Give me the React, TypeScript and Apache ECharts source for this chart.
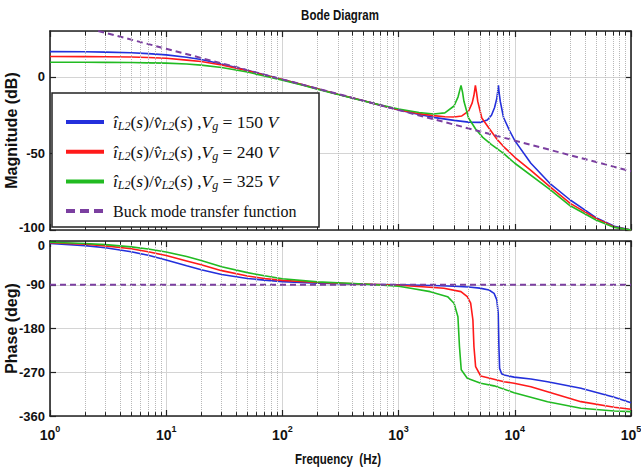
import React, { useEffect, useRef } from "react";
import * as echarts from "echarts";

// ---------- data ----------
const xTickExponents = [0, 1, 2, 3, 4, 5];

const seriesNames = ["vg150", "vg240", "vg325", "buck"];
const seriesColors = ["#2430dc", "#ff1a1a", "#22bb22", "#7b3fa0"];
const vgValues = ["150", "240", "325"];

// Vg = 150 V (blue)
const blueMagF = [1, 2, 3, 5, 7, 10, 15, 20, 30, 50, 70, 100, 150, 200, 300, 500, 700, 1000, 1500, 2000, 3000, 4000, 5000, 5800, 6300, 6700, 7000, 7150, 7230, 7320, 7500, 8000, 9000, 10000, 13750, 20000, 30000, 40000, 50000, 72000, 100000];
const blueMagDb = [16.5, 16.4, 16.2, 15.8, 15.2, 14.4, 12.8, 11.4, 8.5, 4.4, 1.4, -1.7, -5.1, -7.7, -11.3, -15.6, -18.6, -21.6, -24.6, -26.4, -28.4, -29.5, -29.7, -28.2, -25, -20, -14, -9, -5.5, -10, -16, -26.5, -35, -41.6, -56.4, -69.5, -80.4, -86.9, -92, -97.5, -100];
const bluePhF = [1, 2, 3, 5, 7, 10, 15, 20, 30, 50, 70, 100, 200, 500, 1000, 2000, 3000, 4000, 5000, 6000, 6630, 7000, 7200, 7300, 7400, 7700, 8090, 9860, 13750, 19130, 37060, 71800, 100000];
const bluePhDeg = [-5, -9.5, -14, -22, -29.5, -39, -51, -59, -69, -77, -80.5, -83.5, -87, -89, -90, -91.5, -93, -94.5, -97, -100.8, -107.6, -121, -148.7, -217, -262, -273, -275.6, -280, -284, -289.4, -303, -321.5, -332.6];

// Vg = 240 V (red)
const redMagF = [1, 2, 3, 5, 7, 10, 15, 20, 30, 50, 70, 100, 150, 200, 300, 500, 700, 1000, 1500, 2000, 2500, 3000, 3500, 4000, 4300, 4450, 4580, 4680, 4800, 5200, 6000, 7000, 8000, 10000, 13750, 20000, 30000, 50000, 72000, 100000];
const redMagDb = [13.3, 13.25, 13.2, 13.0, 12.7, 12.2, 11.0, 10.1, 7.8, 4.1, 1.1, -1.7, -5.2, -7.7, -11.3, -15.6, -18.5, -21.4, -24.0, -25.3, -26, -26.2, -25.5, -22.4, -17, -12, -5.5, -10, -16, -26.8, -33.5, -40.5, -45.5, -52.5, -61, -71.7, -82.6, -92.4, -98, -100];
const redPhF = [1, 2, 3, 5, 7, 10, 15, 20, 30, 50, 70, 100, 200, 500, 1000, 1270, 2000, 2450, 3440, 3900, 4170, 4360, 4450, 4600, 5090, 8090, 9860, 13750, 19130, 37060, 71800, 100000];
const redPhDeg = [-3.5, -6.5, -10, -16, -22, -30, -41, -49, -61, -72, -77, -81, -85.5, -88.5, -91, -92.6, -95.5, -97.3, -104.2, -114.5, -128, -162.5, -217, -258.5, -277.7, -289.4, -292.7, -299.7, -310, -330.5, -342, -346];

// Vg = 325 V (green)
const greenMagF = [1, 2, 3, 5, 7, 10, 15, 20, 30, 50, 70, 100, 150, 200, 300, 500, 700, 1000, 1500, 2000, 2500, 3000, 3250, 3445, 3550, 3650, 4000, 4600, 5300, 6300, 8000, 10000, 20000, 30000, 50000, 72000, 100000];
const greenMagDb = [9.6, 9.6, 9.5, 9.4, 9.2, 9.0, 8.4, 7.7, 6.2, 3.2, 0.6, -2.1, -5.5, -8.0, -11.5, -15.7, -18.4, -21.0, -23.2, -24.2, -23.5, -19, -13, -5.5, -10, -15.9, -26.8, -34, -39.5, -44.2, -50, -56.4, -73.4, -84.2, -93.5, -98.3, -100];
const greenPhF = [1, 2, 3, 5, 7, 10, 15, 20, 30, 50, 70, 100, 200, 500, 1000, 1270, 1870, 2640, 3000, 3240, 3340, 3460, 3900, 5090, 6630, 9860, 19130, 37060, 71800, 100000];
const greenPhDeg = [-2.5, -5, -7.5, -12, -16.5, -22.5, -32, -40, -53, -65, -71.5, -77.5, -84, -88.5, -93, -97.3, -104.2, -114.5, -128, -155.7, -217, -265, -282.5, -292.7, -298, -312, -330.5, -344.2, -349.7, -351];

// Buck mode transfer function (dashed)
const buckMagF = [2.6, 10, 100, 1000, 10000, 100000];
const buckMagDb = [30, 18.4, -1.6, -21.6, -41.6, -61.6];
const buckPhF = [1, 100000];
const buckPhDeg = [-90, -90];

// ---------- helpers ----------
const zip = (f: number[], v: number[]) => f.map((x, i) => [x, v[i]]);

const SANS = "'Liberation Sans', Arial, sans-serif";
const SERIF = "'Liberation Serif', 'Times New Roman', serif";

const minorFreqs: number[] = [];
[1, 10, 100, 1000, 10000].forEach((d) => {
  for (let m = 2; m <= 9; m++) minorFreqs.push(m * d);
});

function legendLabel(name: string) {
  const idx = seriesNames.indexOf(name);
  if (idx === 3) return "{plain|Buck mode transfer function}";
  const v = vgValues[idx];
  return (
    "{it|î}{sub|L2}{n|(}{it|s}{n|)/}{it|v̂}{sub|L2}{n|(}{it|s}{n|) ,}{it|V}{sub|g}{n| = " +
    v +
    " }{it|V}"
  );
}

export default function App() {
  const ref = useRef<HTMLDivElement>(null);
  useEffect(() => {
    if (!ref.current) return;
    const chart = echarts.init(ref.current, undefined, { renderer: "svg" });

    const gridL = 50;
    const gridR = 10;
    const axisLine = { show: true, onZero: false, lineStyle: { color: "#222", width: 1.6 } };
    const tickStyle = { color: "#222", width: 1.2 };
    const labelFont = {
      fontFamily: SANS,
      fontWeight: "bold" as const,
      fontSize: 13,
      color: "#111",
    };

    const xBase = (grid: number, pos: "bottom" | "top", labels: boolean) => ({
      type: "log" as const,
      logBase: 10,
      min: 1,
      max: 100000,
      gridIndex: grid,
      position: pos,
      axisLine,
      axisTick: { show: true, inside: true, length: 6, lineStyle: tickStyle },
      splitLine: {
        show: pos === "bottom",
        lineStyle: { color: "#d4d4d4", width: 1 },
      },
      axisLabel: labels
        ? {
            show: true,
            margin: 8,
            formatter: (val: number) => {
              const e = Math.round(Math.log10(val));
              return xTickExponents.includes(e) ? `{b|10}{s|${e}}` : "";
            },
            rich: {
              b: { ...labelFont, fontSize: 14, lineHeight: 18, verticalAlign: "bottom" },
              s: { ...labelFont, fontSize: 9, lineHeight: 18, verticalAlign: "top" },
            },
          }
        : { show: false },
    });

    const yBase = (
      grid: number,
      pos: "left" | "right",
      min: number,
      max: number,
      interval: number,
      name: string,
      formatter?: (v: number) => string,
      rich?: any
    ) => ({
      type: "value" as const,
      gridIndex: grid,
      position: pos,
      min,
      max,
      interval,
      axisLine,
      axisTick: { show: true, inside: true, length: 6, lineStyle: tickStyle },
      splitLine: {
        show: pos === "left",
        lineStyle: { color: "#d4d4d4", width: 1 },
      },
      axisLabel:
        pos === "left"
          ? {
              show: true,
              margin: 5,
              showMaxLabel: grid === 1,
              ...labelFont,
              formatter,
              rich,
            }
          : { show: false },
      name: pos === "left" ? name : "",
      nameLocation: "middle" as const,
      nameGap: 31,
      nameRotate: 90,
      nameMoveOverlap: false,
      nameTextStyle: {
        fontFamily: SANS,
        fontWeight: "bold",
        fontSize: 16,
        color: "#111",
      },
    });

    const minorGridLine = (grid: number) => ({
      type: "line" as const,
      xAxisIndex: grid * 2,
      yAxisIndex: grid * 2,
      data: [],
      z: 1,
      silent: true,
      markLine: {
        silent: true,
        symbol: ["none", "none"],
        label: { show: false },
        animation: false,
        lineStyle: { type: "dotted" as const, color: "#b8b8b8", width: 1 },
        data: minorFreqs.map((f) => ({ xAxis: f })),
      },
    });

    const minorTicks = (grid: number, lo: number, hi: number, len: number) => ({
      type: "line" as const,
      xAxisIndex: grid * 2,
      yAxisIndex: grid * 2,
      data: [],
      z: 5,
      silent: true,
      markLine: {
        silent: true,
        symbol: ["none", "none"],
        label: { show: false },
        animation: false,
        lineStyle: { type: "solid" as const, color: "#222", width: 1 },
        data: minorFreqs.flatMap((f) => [
          [{ coord: [f, lo] }, { coord: [f, lo + len] }],
          [{ coord: [f, hi] }, { coord: [f, hi - len] }],
        ]),
      },
    });

    const curve = (
      idx: number,
      grid: number,
      data: number[][],
      dashed = false
    ) => ({
      type: "line" as const,
      name: seriesNames[idx],
      xAxisIndex: grid * 2,
      yAxisIndex: grid * 2,
      data,
      showSymbol: false,
      symbol: "none",
      z: 3,
      color: seriesColors[idx],
      lineStyle: {
        color: seriesColors[idx],
        width: dashed ? 2 : 1.6,
        type: dashed ? [6, 4] : "solid",
      },
    });

    const gridBase = {
      left: gridL,
      right: gridR,
      containLabel: false,
      outerBoundsMode: "none",
    };

    const option: any = {
      animation: false,
      backgroundColor: "#fff",
      grid: [
        { ...gridBase, top: 31, height: 199 },
        { ...gridBase, top: 241, height: 175 },
      ],
      xAxis: [
        xBase(0, "bottom", false),
        xBase(0, "top", false),
        xBase(1, "bottom", true),
        xBase(1, "top", false),
      ],
      yAxis: [
        yBase(0, "left", -100, 30, 50, "Magnitude (dB)",
          (v: number) => (v === -100 ? "{up|-100}" : String(v)),
          { up: { ...labelFont, padding: [0, 0, 6, 0] } }),
        yBase(0, "right", -100, 30, 50, ""),
        yBase(1, "left", -360, 0, 90, "Phase (deg)",
          (v: number) => (v === 0 ? "{dn|0}" : String(v)),
          { dn: { ...labelFont, padding: [9, 0, 0, 0] } }),
        yBase(1, "right", -360, 0, 90, ""),
      ],
      legend: {
        orient: "vertical",
        left: 64,
        top: 112,
        padding: 0,
        itemWidth: 38,
        itemHeight: 14,
        itemGap: 9.7,
        z: 110,
        data: seriesNames.map((n, i) => ({
          name: n,
          itemStyle: { opacity: 0, borderWidth: 0 },
          lineStyle:
            i === 3
              ? { width: 4, type: [9, 5], color: seriesColors[i] }
              : { width: 4, color: seriesColors[i] },
        })),
        formatter: legendLabel,
        textStyle: {
          padding: [0, 0, 0, 4],
          lineHeight: 20,
          rich: {
            it: {
              fontFamily: SERIF,
              fontStyle: "italic",
              fontSize: 17.5,
              color: "#111",
              lineHeight: 20,
            },
            n: {
              fontFamily: SERIF,
              fontSize: 17.5,
              color: "#111",
              lineHeight: 20,
            },
            sub: {
              fontFamily: SERIF,
              fontStyle: "italic",
              fontSize: 12,
              color: "#111",
              lineHeight: 12,
              verticalAlign: "bottom",
            },
            plain: {
              fontFamily: SERIF,
              fontSize: 16,
              color: "#111",
              lineHeight: 20,
            },
          },
        },
      },
      graphic: [
        {
          type: "rect",
          z: 100,
          shape: { x: 52, y: 93, width: 267, height: 134 },
          style: { fill: "#fff", stroke: "#222", lineWidth: 1.5 },
          silent: true,
        },
        {
          type: "text",
          z: 100,
          x: 340,
          y: 15,
          scaleX: 0.82,
          style: {
            text: "Bode Diagram",
            font: "bold 14px 'Liberation Sans', Arial, sans-serif",
            fill: "#111",
            align: "center",
            verticalAlign: "middle",
          },
        },
        {
          type: "text",
          z: 100,
          x: 338,
          y: 459,
          scaleX: 0.82,
          style: {
            text: "Frequency  (Hz)",
            font: "bold 14px 'Liberation Sans', Arial, sans-serif",
            fill: "#111",
            align: "center",
            verticalAlign: "middle",
          },
        },
      ],
      series: [
        minorGridLine(0),
        minorGridLine(1),
        minorTicks(0, -100, 30, 3),
        minorTicks(1, -360, 0, 8),
        curve(0, 0, zip(blueMagF, blueMagDb)),
        curve(1, 0, zip(redMagF, redMagDb)),
        curve(2, 0, zip(greenMagF, greenMagDb)),
        curve(3, 0, zip(buckMagF, buckMagDb), true),
        curve(0, 1, zip(bluePhF, bluePhDeg)),
        curve(1, 1, zip(redPhF, redPhDeg)),
        curve(2, 1, zip(greenPhF, greenPhDeg)),
        curve(3, 1, zip(buckPhF, buckPhDeg), true),
      ],
    };
    chart.setOption(option);
    return () => chart.dispose();
  }, []);

  return (
    <div
      ref={ref}
      style={{ position: "fixed", left: 0, top: 0, width: 641, height: 470, background: "#fff" }}
    />
  );
}
